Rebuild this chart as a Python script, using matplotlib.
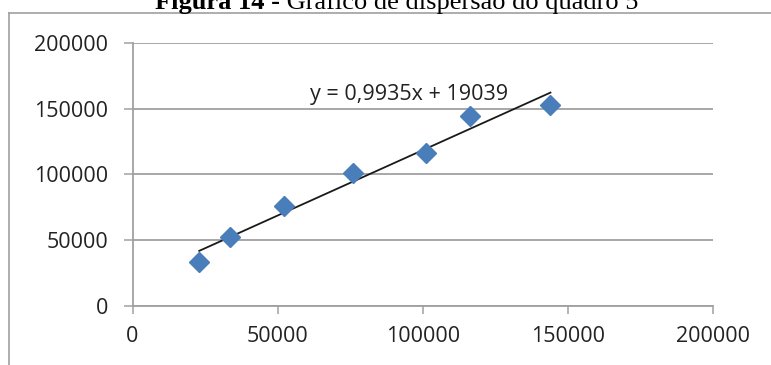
import matplotlib
matplotlib.use("Agg")
import matplotlib.pyplot as plt
from matplotlib.lines import Line2D

# Data (lagged series: x = previous value, y = current value)
x_vals = [23000, 33500, 52300, 75800, 101200, 116200, 144000]
y_vals = [33500, 52300, 75800, 101200, 116200, 144000, 153000]
slope = 0.9935
intercept = 19039
equation = "y = 0,9935x + 19039"
x_ticks = [0, 50000, 100000, 150000, 200000]
y_ticks = [0, 50000, 100000, 150000, 200000]
title_bold = "Figura 14 -"
title_rest = " Gráfico de dispersão do quadro 5"

W, H, DPI = 771, 365, 100
fig = plt.figure(figsize=(W / DPI, H / DPI), dpi=DPI)
fig.patch.set_facecolor("white")

grey = "#a0a0a0"
font = "Open Sans"
fs = 15.5

# outer border (top and left edges; the rest lies outside the image)
bx, by = 9 / W, 1 - 13 / H
fig.lines.append(Line2D([bx, 1.05], [by, by], transform=fig.transFigure,
                        color=grey, linewidth=1.2))
fig.lines.append(Line2D([bx, bx], [by, -0.05], transform=fig.transFigure,
                        color=grey, linewidth=1.2))

ax = fig.add_axes([132.5 / W, 1 - 306 / H, (713 - 132.5) / W, (306 - 42.7) / H])
ax.set_xlim(0, 200000)
ax.set_ylim(0, 200000)
ax.set_xticks(x_ticks)
ax.set_yticks(y_ticks)
ax.set_xticklabels([str(v) for v in x_ticks], family=font, fontsize=fs, color="#222222")
ax.set_yticklabels([str(v) for v in y_ticks], family=font, fontsize=fs, color="#222222")
ax.tick_params(axis="y", length=6.5, width=1.1, color=grey, pad=11)
ax.tick_params(axis="x", length=5.5, width=1.1, color=grey, pad=9)
for s in ["top", "right"]:
    ax.spines[s].set_visible(False)
for s in ["left", "bottom"]:
    ax.spines[s].set_color(grey)
    ax.spines[s].set_linewidth(1.3)
ax.yaxis.grid(True, color=grey, linewidth=1.3)
ax.set_axisbelow(True)

# trend line
x0, x1 = min(x_vals), max(x_vals)
ax.plot([x0, x1], [slope * x0 + intercept, slope * x1 + intercept],
        color="#1a1a1a", linewidth=1.3, zorder=3)
# markers
ax.plot(x_vals, y_vals, linestyle="none", marker="D", markersize=10,
        color="#4a7ebb", markeredgecolor="#4a7ebb", zorder=4)

# equation label
ax.text(310 / W, 1 - 100 / H, equation, transform=fig.transFigure,
        family=font, fontsize=fs, color="#222222", ha="left", va="baseline")

# title (clipped at top, as in the reference)
tfs = 19
tb = fig.text(155 / W, 1 - 9 / H, title_bold, family="Liberation Serif",
              fontsize=tfs, fontweight="bold", ha="left", va="baseline")
fig.canvas.draw()
r = fig.canvas.get_renderer()
bb = tb.get_window_extent(r)
fig.text(bb.x1 / W, 1 - 9 / H, title_rest, family="Liberation Serif",
         fontsize=tfs, ha="left", va="baseline")

fig.savefig("out.png", dpi=DPI)
